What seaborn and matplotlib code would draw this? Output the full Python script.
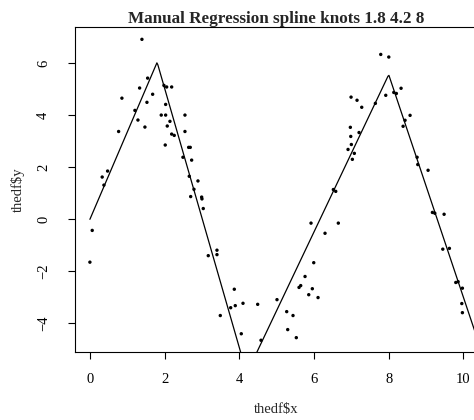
import numpy as np
import pandas as pd
import matplotlib
matplotlib.use("Agg")
import matplotlib.pyplot as plt
import seaborn as sns

# ---- data ----
x = [1.393, 1.546, 1.331, 1.982, 2.055, 2.189, 1.680, 0.857, 1.527, 2.028,
     1.205, 1.910, 2.028, 2.545, 1.286, 2.143, 2.071, 1.473, 0.769, 2.545,
     2.189, 2.258, 2.017, 2.644, 2.687, 2.491, 2.724, 0.474, 0.329, 2.660,
     2.893, 0.375, 2.786, 2.698, 2.992, 3.000, 3.035, 3.402, 3.169, 3.402,
     3.866, 3.491, 3.769, 3.892, 4.099, 4.492, 4.053, 4.581, 5.009, 5.269,
     5.438, 5.296, 5.526, 5.993, 5.760, 5.599, 5.644, 5.955, 5.859, 6.108,
     7.787, 8.002, 8.331, 8.136, 8.205, 7.921, 6.992, 7.152, 7.278, 7.643,
     8.572, 8.438, 8.385, 6.973, 7.206, 6.984, 7.000, 7.080, 6.911, 7.027,
     8.760, 8.778, 9.054, 6.518, 6.582, 9.170, 9.234, 9.483, 9.448, 9.625,
     9.796, 9.858, 9.973, 9.957, 9.973, 0.062, 0.000, 5.920, 6.651, 6.295]
y = [6.91, 5.42, 5.04, 5.14, 5.08, 5.08, 4.80, 4.65, 4.49, 4.41,
     4.18, 4.00, 4.00, 4.00, 3.81, 3.76, 3.58, 3.54, 3.37, 3.37,
     3.27, 3.22, 2.85, 2.76, 2.76, 2.38, 2.27, 1.85, 1.62, 1.65,
     1.47, 1.31, 1.15, 0.87, 0.85, 0.78, 0.41, -1.19, -1.40, -1.36,
     -2.69, -3.70, -3.40, -3.32, -3.23, -3.27, -4.40, -4.65, -3.09, -3.55,
     -3.70, -4.24, -4.55, -1.67, -2.20, -2.62, -2.55, -2.67, -2.90, -3.01,
     6.33, 6.23, 5.03, 4.87, 4.83, 4.76, 4.69, 4.57, 4.30, 4.45,
     3.99, 3.80, 3.57, 3.53, 3.33, 3.18, 2.87, 2.53, 2.68, 2.30,
     2.38, 2.10, 1.88, 1.14, 1.07, 0.26, 0.23, 0.19, -1.15, -1.12,
     -2.43, -2.40, -2.65, -3.24, -3.59, -0.43, -1.65, -0.15, -0.15, -0.54]
knots = [1.8, 4.2, 8]
x_ticks = [0, 2, 4, 6, 8, 10]
y_ticks = [-4, -2, 0, 2, 4, 6]
title = "Manual Regression spline knots 1.8 4.2 8"

df = pd.DataFrame({"x": x, "y": y})

# linear regression spline with manual knots
def basis(v):
    v = np.asarray(v, dtype=float)
    cols = [np.ones_like(v), v] + [np.clip(v - k, 0, None) for k in knots]
    return np.column_stack(cols)

coef, *_ = np.linalg.lstsq(basis(df["x"]), df["y"], rcond=None)

# R-style axis ranges (4% padding)
xr = df["x"].max() - df["x"].min()
yr = df["y"].max() - df["y"].min()
xlim = (df["x"].min() - 0.04 * xr, df["x"].max() + 0.04 * xr)
ylim = (df["y"].min() - 0.04 * yr, df["y"].max() + 0.04 * yr)

grid = np.linspace(df["x"].min(), xlim[1], 400)
fit = pd.DataFrame({"x": grid, "y": basis(grid) @ coef})

sns.set_style("ticks")
plt.rcParams["font.family"] = ["Liberation Serif", "DejaVu Serif"]

fig = plt.figure(figsize=(4.74, 4.2), dpi=100)
ax = fig.add_axes([75 / 474, (420 - 352.3) / 420, (477.3 - 75) / 474, (352.3 - 27.3) / 420])

sns.scatterplot(data=df, x="x", y="y", ax=ax, color="black", s=6,
                linewidth=0, edgecolor="none", zorder=3)
sns.lineplot(data=fit, x="x", y="y", ax=ax, color="black", linewidth=0.9,
             estimator=None, sort=False)

ax.set_xlim(*xlim)
ax.set_ylim(*ylim)
ax.set_xticks(x_ticks)
ax.set_yticks(y_ticks)
ax.set_xticklabels([str(t) for t in x_ticks])
ax.set_yticklabels([str(t).replace("-", "\u2212") for t in y_ticks], rotation=90, va="center")

for sp in ax.spines.values():
    sp.set_visible(True)
    sp.set_color("black")
    sp.set_linewidth(0.8)

ax.tick_params(axis="both", direction="out", length=5, width=0.8,
               colors="black", labelsize=10.5)
ax.tick_params(axis="x", pad=10)
ax.tick_params(axis="y", pad=13)
ax.set_xlabel(r"thedf\$x", fontsize=10.5, labelpad=12.5)
ax.set_ylabel(r"thedf\$y", fontsize=10.5, labelpad=8.5)
ax.set_title(title, fontsize=12.3, fontweight="bold", pad=3)

fig.savefig("out.png", dpi=100)
